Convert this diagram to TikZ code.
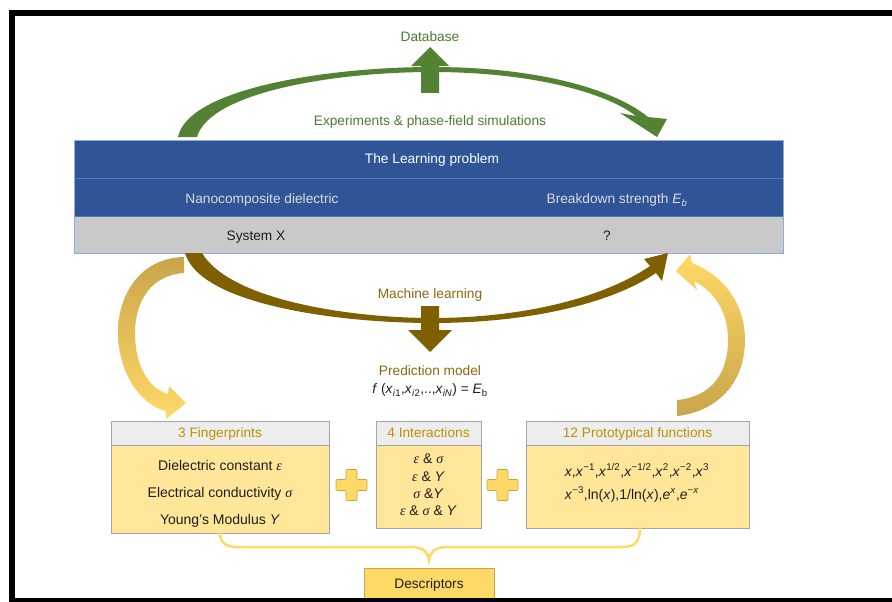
\documentclass[tikz,border=0pt]{standalone}
\usepackage{fontspec}
\setmainfont{Liberation Sans}
\newfontfamily\grkfont{Liberation Serif}
\definecolor{tblue}{HTML}{2F5597}
\definecolor{tsep}{HTML}{4F78C4}
\definecolor{tborder}{HTML}{8FAADC}
\definecolor{tgray}{HTML}{C9C9C9}
\definecolor{garrowc}{HTML}{548235}
\definecolor{gtext}{HTML}{4E7A2E}
\definecolor{barrowc}{HTML}{7F6000}
\definecolor{btext}{HTML}{8A6A10}
\definecolor{goldtext}{HTML}{BF9000}
\definecolor{ylight}{HTML}{FFD966}
\definecolor{ydark}{HTML}{C9A54B}
\definecolor{bodyfill}{HTML}{FFE699}
\definecolor{hdrfill}{HTML}{EDEDED}
\definecolor{boxline}{HTML}{A5A5A5}
\definecolor{darktext}{HTML}{1E1E1E}
\newcommand{\myx}{\textit{x}}
\newcommand{\eps}{{\grkfont\itshape ε}}
\newcommand{\sig}{{\grkfont\itshape σ}}
\tikzset{
  lbl/.style={font=\fontsize{13.7}{16}\selectfont, inner sep=0pt, text=darktext, text height=9.8pt, text depth=0pt},
  blbl/.style={font=\fontsize{14}{16}\selectfont, inner sep=0pt, text=darktext, text height=10pt, text depth=0pt},
  hdr/.style={draw=boxline, fill=hdrfill, line width=0.8pt, text=goldtext,
    font=\fontsize{13.7}{16}\selectfont, inner sep=0pt, minimum height=24pt, text height=9.8pt, text depth=0pt},
  bodybox/.style={draw=boxline, fill=bodyfill, line width=0.8pt, inner sep=0pt},
  trow/.style={fill=tblue, inner sep=0pt, minimum width=708pt},
  garrow/.style={fill=garrowc},
  barrow/.style={fill=barrowc},
  bracestyle/.style={draw=ylight, line width=2.5pt, line cap=round},
  plussign/.pic={\filldraw[fill=ylight, draw=goldtext!80, line width=0.6pt, rounded corners=1pt]
    (-5.5,-15.5) -- (5.5,-15.5) -- (5.5,-5.5) -- (15.5,-5.5) -- (15.5,5.5) -- (5.5,5.5)
    -- (5.5,15.5) -- (-5.5,15.5) -- (-5.5,5.5) -- (-15.5,5.5) -- (-15.5,-5.5) -- (-5.5,-5.5) -- cycle;}
}
\begin{document}
\begin{tikzpicture}[x=1pt,y=-1pt]
\useasboundingbox (0,0) rectangle (892,602);
\fill[white] (0,0) rectangle (892,602);

% ---- green loop (experiments) ----
\fill[garrow] (178,137) .. controls (188,88) and (330,67) .. (432,67)
  .. controls (540,67) and (615,90) .. (648,117) -- (667,119) -- (657,137) -- (620,113) -- (636,116)
  .. controls (605,92) and (530,72) .. (432,72) .. controls (335,72) and (210,92) .. (197,137) -- cycle;
\fill[garrow] (421,93) -- (421,66) -- (411,66) -- (430,47) -- (449,66) -- (439,66) -- (439,93) -- cycle;
\node[lbl, text=gtext] (db) at (430,37) {Database};
\node[lbl, text=gtext] (exp) at (430,121) {Experiments \& phase-field simulations};

% ---- table ----
\node[trow, minimum height=37pt] (row1) at (429,159.5) {};
\node[trow, minimum height=38pt] (row2) at (429,197) {};
\node[fill=tgray, inner sep=0pt, minimum width=708pt, minimum height=37pt] (row3) at (429,234.5) {};
\draw[tsep, line width=1pt] (row1.south west) -- (row1.south east);
\draw[tsep, line width=1pt] (row2.south west) -- (row2.south east);
\draw[tborder, line width=1pt] (row1.north west) rectangle (row3.south east);
\node[lbl, text=white] (learn) at (432,159) {The Learning problem};
\node[lbl, text=black!14] (nano) at (262,199) {Nanocomposite dielectric};
\node[lbl, text=black!14] (brk) at (617,199) {Breakdown strength \textit{E}\textsubscript{\textit{b}}};
\node[lbl] (sysx) at (256,236) {System X};
\node[lbl] (qm) at (607,236) {?};

% ---- brown loop (machine learning) ----
\fill[barrow] (185,253) .. controls (200,305) and (340,323) .. (432,323)
  .. controls (530,323) and (612,303) .. (656,273) -- (662,281) -- (668,253) -- (644,259) -- (650,266)
  .. controls (605,297) and (525,318) .. (432,318) .. controls (350,318) and (230,300) .. (202,253) -- cycle;
\fill[barrow] (421,306) -- (421,330) -- (408,330) -- (430,352) -- (452,330) -- (439,330) -- (439,306) -- cycle;
\node[lbl, text=btext] (ml) at (430,294) {Machine learning};
\node[lbl, text=btext] (pm) at (430,371) {Prediction model};
\node[lbl] (fm) at (430,389) {\textit{f} (\myx\textsubscript{\textit{i}1},\myx\textsubscript{\textit{i}2},..,\myx\textsubscript{\textit{iN}}) = \textit{E}\textsubscript{b}};

% ---- yellow side loops ----
\shade[top color=ydark, bottom color=ylight] (184,257) .. controls (140,258) and (118,295) .. (118,332)
  .. controls (118,372) and (140,405) .. (166,411) -- (166,419) -- (186,403) -- (169,386) -- (168,394)
  .. controls (148,388) and (135,365) .. (135,333) .. controls (135,300) and (152,275) .. (184,273) -- cycle;
\shade[top color=ylight, bottom color=ydark] (692,263) .. controls (725,276) and (745,305) .. (745,340)
  .. controls (745,385) and (715,412) .. (677,416) -- (677,400) .. controls (710,397) and (728,375) .. (728,340)
  .. controls (728,312) and (715,292) .. (694,281) -- (697,290) -- (676,271) -- (690,254) -- cycle;

% ---- descriptor boxes ----
\node[hdr, minimum width=218pt] (h1) at (220,433) {3 Fingerprints};
\node[bodybox, minimum width=218pt, minimum height=88pt, anchor=north] (b1) at (h1.south) {};
\node[blbl] (b1a) at (220,465) {Dielectric constant \eps};
\node[blbl] (b1b) at (220,492) {Electrical conductivity \sig};
\node[blbl] (b1c) at (220,519) {Young’s Modulus \textit{Y}};

\node[hdr, minimum width=105pt] (h2) at (428.5,433) {4 Interactions};
\node[bodybox, minimum width=105pt, minimum height=83pt, anchor=north] (b2) at (h2.south) {};
\node[blbl] (b2a) at (428.5,458) {\eps\ \& \sig};
\node[blbl] (b2b) at (428.5,476) {\eps\ \& \textit{Y}};
\node[blbl] (b2c) at (428.5,493) {\sig\ \&\textit{Y}};
\node[blbl] (b2d) at (428.5,510) {\eps\ \& \sig\ \& \textit{Y}};

\node[hdr, minimum width=223pt] (h3) at (637.5,433) {12 Prototypical functions};
\node[bodybox, minimum width=223pt, minimum height=83pt, anchor=north] (b3) at (h3.south) {};
\node[blbl] (b3a) at (637,471) {\myx,\myx\textsuperscript{−1},\myx\textsuperscript{1/2},\myx\textsuperscript{−1/2},\myx\textsuperscript{2},\myx\textsuperscript{−2},\myx\textsuperscript{3}};
\node[blbl] (b3b) at (632,494) {\myx\textsuperscript{−3},ln(\myx),1/ln(\myx),\textit{e}\textsuperscript{\myx},\textit{e}\textsuperscript{−\myx}};

\pic at (351.5,485) {plussign};
\pic at (502.5,485) {plussign};

% ---- brace ----
\draw[bracestyle] (220,533) .. controls (220,543) and (226,547) .. (238,547) -- (411,547)
  .. controls (423,547) and (428,552) .. (429,560) .. controls (430,552) and (435,547) .. (447,547)
  -- (622,547) .. controls (634,547) and (640,543) .. (640,528);

\node[fill=ylight, draw=ydark, line width=0.8pt, minimum width=130pt, minimum height=34pt, inner sep=0pt,
  font=\fontsize{13.7}{16}\selectfont, text=darktext] (desc) at (429,585) {Descriptors};

% ---- frame ----
\draw[black, line width=6pt] (892,13) -- (12,13) -- (12,602);
\draw[black, line width=4pt] (9,600) -- (892,600);
\end{tikzpicture}
\end{document}
